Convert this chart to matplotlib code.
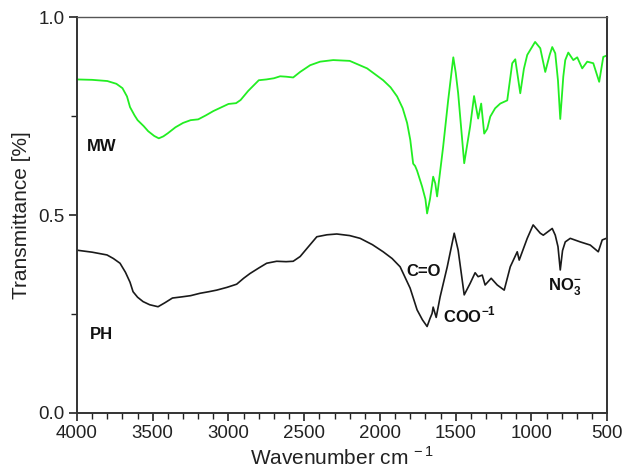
import matplotlib
matplotlib.use("Agg")
import matplotlib.pyplot as plt
from matplotlib.ticker import MultipleLocator

plt.rcParams['font.family'] = ['Liberation Sans', 'DejaVu Sans']

# FTIR spectrum of the MW sample
mw_wn = [4000, 3900, 3800, 3740, 3700, 3670, 3650, 3620, 3600, 3560, 3530, 3490, 3460,
         3430, 3400, 3350, 3300, 3250, 3200, 3150, 3100, 3050, 3000, 2950, 2920, 2870,
         2800, 2750, 2700, 2659, 2620, 2573, 2527, 2461, 2395, 2309, 2200, 2085, 1979,
         1930, 1887, 1850, 1821, 1800, 1781, 1768, 1755, 1722, 1700, 1689, 1670, 1649,
         1635, 1623, 1583, 1550, 1516, 1500, 1484, 1444, 1405, 1379, 1352, 1332, 1312,
         1292, 1272, 1240, 1206, 1160, 1127, 1107, 1074, 1050, 1028, 976, 942, 909, 880,
         863, 843, 825, 810, 790, 777, 757, 724, 698, 665, 632, 592, 553, 526, 500]
mw_t = [0.843, 0.842, 0.839, 0.832, 0.821, 0.800, 0.773, 0.752, 0.740, 0.725, 0.712,
        0.700, 0.694, 0.699, 0.707, 0.722, 0.733, 0.740, 0.742, 0.752, 0.763, 0.772,
        0.781, 0.783, 0.791, 0.814, 0.841, 0.843, 0.846, 0.851, 0.850, 0.848, 0.862,
        0.879, 0.888, 0.892, 0.890, 0.871, 0.841, 0.823, 0.800, 0.770, 0.733, 0.690,
        0.630, 0.624, 0.612, 0.572, 0.540, 0.504, 0.540, 0.597, 0.580, 0.547, 0.673,
        0.790, 0.899, 0.860, 0.808, 0.631, 0.724, 0.801, 0.744, 0.782, 0.706, 0.718,
        0.749, 0.770, 0.782, 0.790, 0.884, 0.894, 0.808, 0.870, 0.905, 0.938, 0.922,
        0.862, 0.905, 0.925, 0.909, 0.840, 0.743, 0.850, 0.892, 0.911, 0.892, 0.899,
        0.871, 0.888, 0.884, 0.837, 0.900, 0.904]

# FTIR spectrum of the PH sample
ph_wn = [4000, 3900, 3802, 3760, 3716, 3680, 3650, 3630, 3600, 3564, 3520, 3465, 3420,
         3370, 3307, 3250, 3188, 3130, 3078, 3010, 2946, 2900, 2858, 2800, 2748, 2682,
         2620, 2573, 2527, 2481, 2417, 2350, 2285, 2200, 2131, 2050, 1979, 1920, 1867,
         1801, 1755, 1720, 1689, 1670, 1656, 1649, 1629, 1603, 1556, 1510, 1484, 1444,
         1405, 1372, 1352, 1325, 1306, 1266, 1226, 1180, 1140, 1094, 1081, 1028, 989,
         960, 942, 922, 863, 843, 825, 810, 795, 777, 744, 678, 612, 559, 533, 506, 500]
ph_t = [0.411, 0.406, 0.399, 0.390, 0.378, 0.355, 0.330, 0.306, 0.292, 0.281, 0.273,
        0.268, 0.278, 0.290, 0.293, 0.296, 0.302, 0.306, 0.310, 0.317, 0.325, 0.340,
        0.352, 0.366, 0.378, 0.383, 0.382, 0.383, 0.395, 0.416, 0.445, 0.450, 0.452,
        0.448, 0.441, 0.425, 0.407, 0.390, 0.369, 0.315, 0.260, 0.235, 0.218, 0.238,
        0.251, 0.267, 0.241, 0.293, 0.369, 0.454, 0.411, 0.298, 0.327, 0.354, 0.344,
        0.348, 0.323, 0.340, 0.323, 0.310, 0.369, 0.407, 0.386, 0.441, 0.475, 0.462,
        0.454, 0.449, 0.466, 0.449, 0.420, 0.361, 0.410, 0.432, 0.441, 0.432, 0.424,
        0.407, 0.437, 0.441, 0.441]

x_ticks = [4000, 3500, 3000, 2500, 2000, 1500, 1000, 500]
y_ticks = [0.0, 0.5, 1.0]

fig = plt.figure(figsize=(6.26, 4.70), dpi=100)
ax = fig.add_axes([0.123, 0.122, 0.847, 0.841])

ax.plot(mw_wn, mw_t, color='#22ee22', lw=1.3)
ax.plot(ph_wn, ph_t, color='#1a1a1a', lw=1.2)

ax.set_xlim(4000, 500)
ax.set_ylim(0.0, 1.0)
ax.set_xticks(x_ticks)
ax.set_xticklabels([str(v) for v in x_ticks])
ax.set_yticks(y_ticks)
ax.set_yticklabels([f"{v:.1f}" for v in y_ticks])
ax.xaxis.set_minor_locator(MultipleLocator(100))
ax.yaxis.set_minor_locator(MultipleLocator(0.25))

ax.tick_params(axis='both', which='major', direction='out', length=6, width=1.2,
               labelsize=13.5, colors='#222222', pad=3, top=False, right=False)
ax.tick_params(axis='both', which='minor', direction='out', length=4.5, width=1.0,
               colors='#222222', top=False, right=False)

for side in ['left', 'bottom', 'right']:
    ax.spines[side].set_color('#333333')
    ax.spines[side].set_linewidth(1.4)
ax.spines['top'].set_color('#555555')
ax.spines['top'].set_linewidth(1.0)

ax.set_xlabel('Wavenumber cm$^{\\mathregular{\\,-1}}$', fontsize=15, color='#222222', labelpad=3)
ax.set_ylabel('Transmittance [%]', fontsize=15, color='#222222', labelpad=5)

bold = dict(fontsize=12, fontweight='bold', color='#111111')
ax.text(3934, 0.674, 'MW', ha='left', va='center', **bold)
ax.text(3914, 0.197, 'PH', ha='left', va='center', **bold)
ax.text(1715, 0.356, 'C=O', ha='center', va='center', **bold)
ax.text(1583, 0.247, 'COO$^{\\mathregular{-1}}$', ha='left', va='center', **bold)
ax.text(889, 0.318, 'NO$_{\\mathregular{3}}^{\\mathregular{-}}$', ha='left', va='center', **bold)

fig.savefig('out.png', dpi=100)
